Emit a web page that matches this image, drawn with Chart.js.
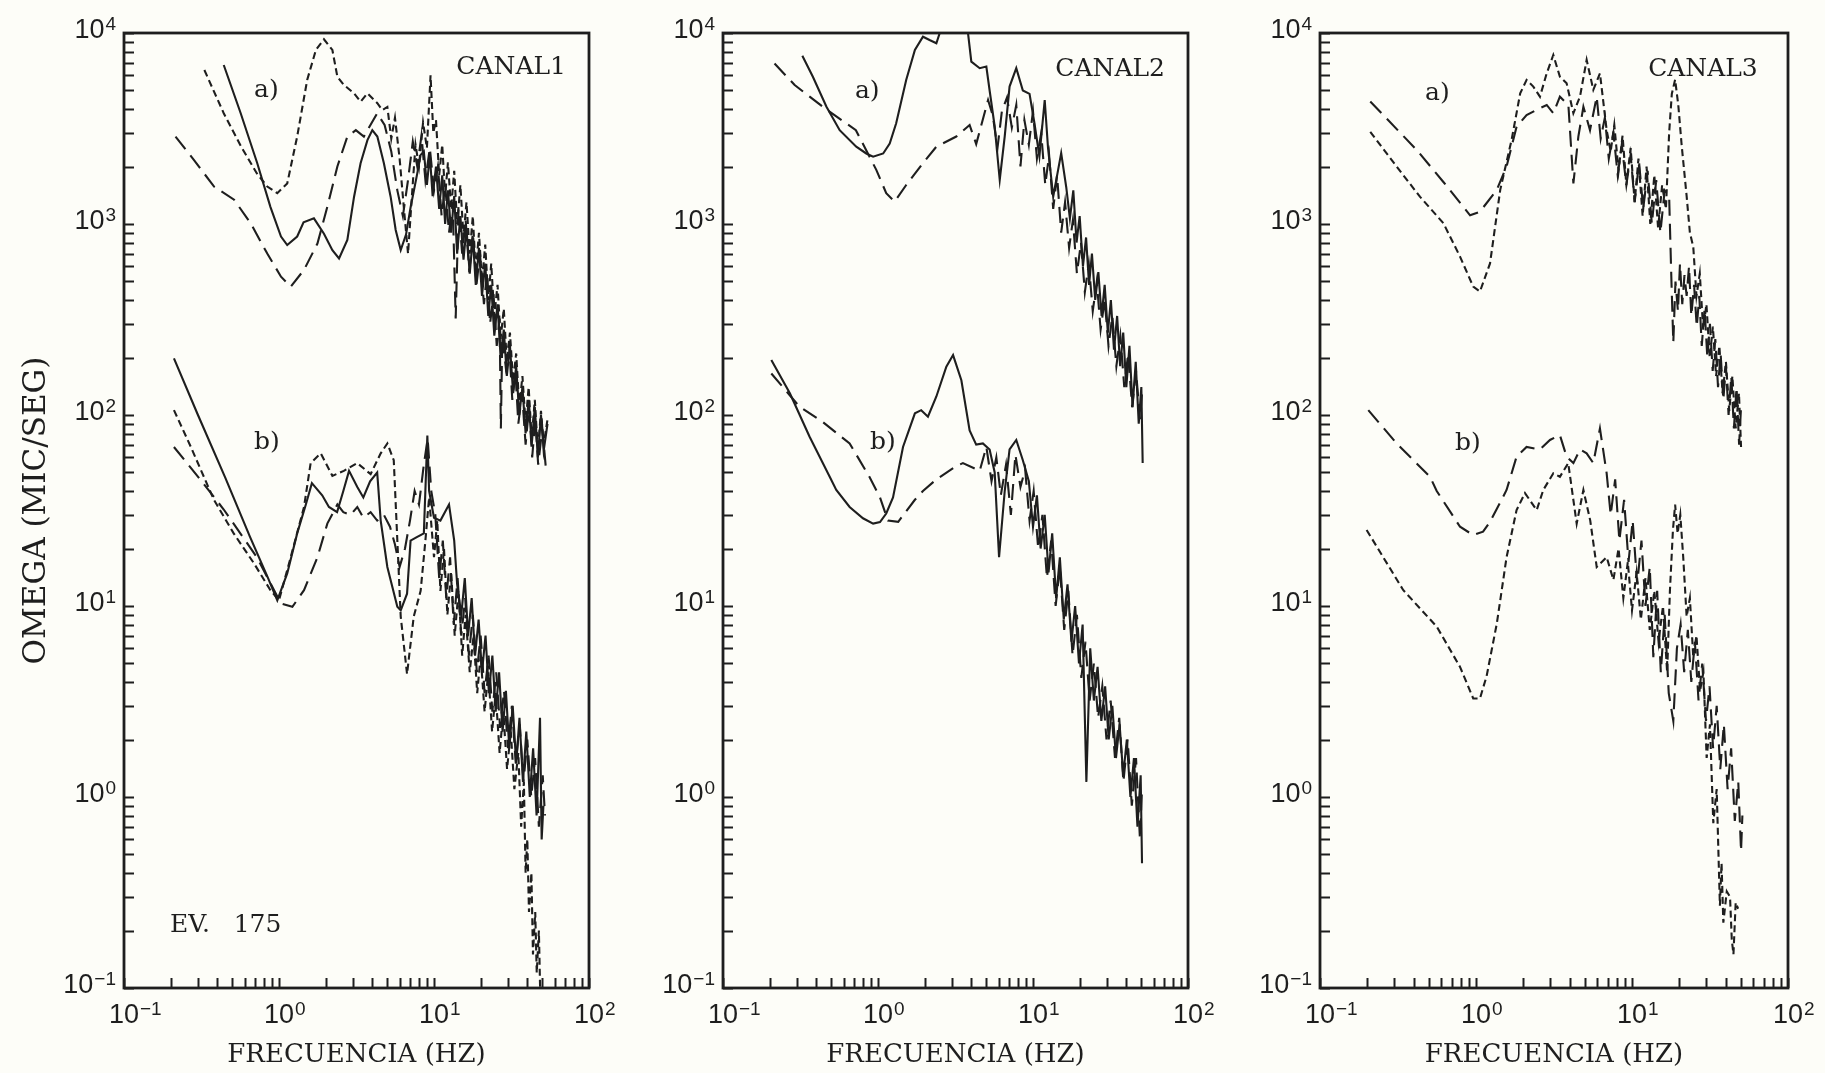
<!DOCTYPE html>
<html>
<head>
<meta charset="utf-8">
<script src="https://cdn.jsdelivr.net/npm/chart.js@4.4.1/dist/chart.umd.min.js"></script>
<style>
  html, body { margin: 0; padding: 0; background: #fdfdf8; }
  #sheet { position: relative; width: 1825px; height: 1073px; overflow: hidden; }
  #sheet canvas { position: absolute; top: 0; }
</style>
</head>
<body>
<div id="sheet">
  <canvas id="canal1" width="640" height="1073" style="left:0px"></canvas>
  <canvas id="canal2" width="610" height="1073" style="left:610px"></canvas>
  <canvas id="canal3" width="615" height="1073" style="left:1210px"></canvas>
</div>
<script>
// ---- data: [frequency Hz, omega mic/seg] ----

// CANAL1, group a)
const c1aSolid = [[0.44,6800],[0.566,3800],[0.724,2080],[0.88,1230],[1.03,860],[1.13,776],[1.31,860],[1.44,1020],[1.68,1070],[1.95,890],[2.21,730],[2.44,660],[2.76,825],[3.05,1390],[3.36,2080],[3.72,2750],[4.0,3100],[4.31,2870],[4.75,2080],[5.25,1390],[5.66,930],[6.1,730],[6.6,880],[7.06,1220],[7.8,1840],[8.2,2300],[8.6,2400],[9.0,1600],[9.4,2300],[9.8,1400],[10.3,2000],[10.8,1200],[11.3,1800],[11.8,1000],[12.3,1500],[12.9,900],[13.5,1400],[14.1,700],[14.8,1100],[15.5,650],[16.2,950],[17.0,550],[17.8,850],[18.6,480],[19.5,750],[20.4,420],[21.4,620],[22.4,330],[23.4,480],[24.5,260],[25.7,380],[26.9,200],[28.2,280],[29.5,160],[30.9,230],[32.4,130],[33.9,180],[35.5,100],[37.2,140],[39,80],[40.8,120],[42.7,70],[44.7,110],[46.8,60],[49,100],[51,65],[54,90]];
const c1aLong = [[0.215,2870],[0.283,2160],[0.381,1570],[0.513,1340],[0.656,1010],[0.84,700],[1.03,530],[1.19,470],[1.45,575],[1.77,790],[2.05,1230],[2.38,2000],[2.76,2870],[3.13,3100],[3.53,2870],[4.3,3800],[4.8,3300],[5.3,2400],[5.8,1500],[6.3,1100],[6.8,1700],[7.3,2700],[7.8,2000],[8.3,2900],[8.8,1700],[9.4,2500],[10.0,1500],[10.6,2000],[11.2,1100],[11.8,1600],[12.5,900],[13.2,1300],[13.8,320],[14.4,1200],[15.2,700],[16.0,1050],[16.9,560],[17.8,900],[18.8,480],[19.8,700],[21,380],[22,560],[23,300],[24.2,430],[25.4,230],[26.5,320],[27,85],[27.6,260],[29,180],[30.5,240],[32,120],[33.5,170],[35,90],[37,130],[39,70],[41,110],[43,60],[45,95],[47,55],[50,85],[53,50]];
const c1aShort = [[0.33,6400],[0.44,3800],[0.57,2540],[0.72,1840],[0.84,1570],[0.975,1450],[1.13,1630],[1.31,2870],[1.52,5680],[1.73,8150],[1.95,9270],[2.21,8150],[2.38,5900],[2.62,5350],[3.05,4830],[3.36,4370],[3.72,4830],[4.31,4290],[4.64,3950],[5.0,4100],[5.3,2800],[5.6,3600],[6.0,2200],[6.4,1200],[6.8,700],[7.2,1400],[7.6,2600],[8.0,2000],[8.5,3400],[9.0,2500],[9.5,6000],[9.9,3000],[10.3,3500],[10.8,1800],[11.3,2600],[11.8,1400],[12.3,2100],[12.9,1200],[13.5,1900],[14.1,1000],[14.8,1600],[15.5,850],[16.2,1300],[17.0,700],[17.8,1100],[18.6,560],[19.5,900],[20.4,500],[21.4,780],[22.4,400],[23.4,620],[24.5,330],[25.7,480],[26.9,250],[28.2,360],[29.5,190],[30.9,270],[32.4,150],[33.9,210],[35.5,110],[37.2,160],[39,90],[40.8,140],[42.7,75],[44.7,120],[46.8,65],[49,105],[51,70],[54,95]];

// CANAL1, group b)
const c1bSolid = [[0.21,198],[0.3,100],[0.45,47],[0.65,23],[0.85,14],[0.975,10.7],[1.13,14.8],[1.31,24],[1.49,34],[1.63,44],[1.9,38],[2.1,33],[2.37,31],[2.6,40],[2.83,51],[3.2,42],[3.5,37],[3.87,45],[4.3,50],[4.53,28],[5.0,16],[5.8,9.9],[6.1,9.5],[6.7,11.6],[7.06,22],[7.8,23],[8.6,24],[9.06,78],[9.3,40],[10,29],[11,28],[12.5,34],[13.5,22],[14.1,13],[15,9],[15.8,14],[16.6,7],[17.5,11],[18.4,5.5],[19.4,8.5],[20.4,4.5],[21.5,7],[22.6,3.5],[23.8,5.5],[25,2.8],[26.3,4.5],[27.7,2.2],[29.1,3.6],[30.6,1.8],[32.2,3.0],[33.9,1.5],[35.6,2.6],[37.5,1.2],[39.4,2.2],[41.5,1.0],[43.6,1.8],[45.9,0.8],[48.3,2.6],[49.5,0.6],[50.8,0.9]];
const c1bLong = [[0.21,68],[0.31,46],[0.44,32],[0.72,18],[1.03,10.3],[1.22,9.9],[1.45,12.1],[1.77,18],[2.05,27],[2.38,34],[2.6,31],[2.9,30],[3.2,33],[3.5,29],[3.9,31],[4.3,28],[4.75,30],[5.2,26],[5.6,21],[6.0,16],[6.5,20],[7.0,28],[7.5,40],[8.0,34],[8.6,55],[9.1,75],[9.6,40],[10.2,30],[10.8,14],[11.4,22],[12.0,11],[12.7,18],[13.4,8],[14.2,14],[15.0,7],[15.9,11],[16.8,5.5],[17.8,9],[18.9,4.5],[20.0,7],[21.2,3.5],[22.5,5.5],[23.8,2.8],[25.2,4.5],[26.7,2.3],[28.3,3.6],[30.0,1.8],[31.8,3],[33.7,1.5],[35.7,2.4],[37.8,1.2],[40.0,2.0],[42.4,1.0],[44.9,1.6],[47.5,0.7],[50.3,1.3],[52,0.8]];
const c1bShort = [[0.21,106],[0.27,68],[0.38,36],[0.51,24],[0.69,16.7],[0.88,12.1],[1.0,10.7],[1.19,18],[1.45,33],[1.6,56],[1.86,63],[2.21,48],[2.62,51],[3.2,56],[3.9,49],[4.53,63],[5.0,71],[5.5,58],[6.1,8.8],[6.7,4.4],[7.4,8.8],[8.2,12],[8.8,22],[9.3,37],[10,18],[10.5,28],[11,12],[11.6,20],[12.2,9],[12.9,15],[13.6,7],[14.4,12],[15.2,5.5],[16,9],[17,4.5],[18,7],[19,3.5],[20,5.5],[21.2,2.8],[22.4,4.5],[23.7,2.2],[25,3.5],[26.5,1.7],[28,2.8],[29.6,1.4],[31.3,2.2],[33,1.1],[35,1.7],[36.5,0.7],[38,1.2],[39,0.4],[40,0.6],[41,0.25],[42.5,0.4],[43.5,0.15],[45,0.25],[46,0.12],[47.5,0.2],[48.5,0.09]];

// CANAL2, group a)
const c2aSolid = [[0.325,7600],[0.38,5900],[0.465,4110],[0.566,3100],[0.724,2540],[0.84,2340],[0.93,2250],[1.08,2340],[1.19,2640],[1.31,3370],[1.52,5680],[1.73,8150],[1.95,9560],[2.15,9190],[2.38,8840],[2.62,11200],[3.4,12000],[3.81,9960],[4.0,7080],[4.53,6540],[5.0,6670],[5.25,5000],[5.66,3240],[6.1,1700],[6.57,2880],[7.06,5240],[7.8,6540],[8.6,5000],[9.5,4800],[10.2,3400],[11,2260],[11.9,4460],[12.5,2500],[13.5,1390],[15.2,2350],[16.4,1550],[17.3,1070],[18.2,1500],[19.1,800],[20,1100],[21,600],[22,850],[23,480],[24,700],[25.2,400],[26.4,560],[27.7,330],[29,480],[30.4,270],[31.8,400],[33.3,220],[34.9,330],[36.5,180],[38.2,270],[40,140],[41.9,230],[43.9,110],[46,190],[48.1,90],[50,140],[51,56]];
const c2aLong = [[0.215,6920],[0.29,5340],[0.44,4110],[0.72,3100],[0.975,1920],[1.13,1450],[1.28,1310],[1.52,1600],[1.95,2080],[2.38,2540],[3.2,2870],[3.9,3300],[4.3,2620],[5.13,4460],[5.5,3700],[5.9,2500],[6.3,3900],[6.8,4600],[7.3,3200],[7.8,4200],[8.3,2000],[8.8,3500],[9.4,2600],[10,3900],[10.6,2200],[11.3,3000],[12,1600],[12.7,2300],[13.5,1200],[14.3,1800],[15.2,900],[16.1,1300],[17.1,750],[18.1,1050],[19.2,550],[20.4,800],[21.6,440],[22.9,620],[24.3,350],[25.8,500],[27.3,280],[29,400],[30.7,230],[32.5,330],[34.5,180],[36.6,260],[38.8,140],[41.1,210],[43.6,110],[46.2,170],[49,95],[50.5,130]];

// CANAL2, group b)
const c2bSolid = [[0.205,194],[0.27,130],[0.362,77],[0.488,47.5],[0.538,40.5],[0.656,33],[0.8,28.8],[0.93,27],[1.03,27.5],[1.13,30.5],[1.25,37],[1.45,68],[1.73,102],[1.9,106],[2.1,98],[2.38,125],[2.76,179],[3.05,206],[3.45,152],[3.9,83],[4.3,70],[4.75,71],[5.25,66],[5.66,50],[6.04,18],[6.57,40],[7.06,66],[7.8,74],[8.6,58],[9.4,45],[10,26],[10.6,38],[11.2,20],[11.9,30],[12.6,15],[13.3,24],[14.1,11],[14.9,18],[15.8,8.5],[16.7,13],[17.7,6.5],[18.7,10],[19.8,5],[20.9,8],[22.1,1.2],[23.4,6],[24.7,3.2],[26.1,4.8],[27.6,2.5],[29.2,3.8],[30.8,2],[32.5,3],[34.3,1.6],[36.2,2.4],[38.2,1.3],[40.3,2.0],[42.5,1.0],[44.8,1.6],[47.2,0.7],[49.5,1.3],[50.5,0.45]];
const c2bLong = [[0.205,165],[0.31,111],[0.44,92],[0.656,71],[0.88,47.5],[1.03,37],[1.16,28],[1.35,27.6],[1.73,36],[1.95,40],[2.38,46],[3.2,54],[3.53,56],[4.53,51],[5.0,68],[5.4,45],[5.8,60],[6.2,38],[6.7,55],[7.2,30],[7.7,62],[8.3,42],[8.9,52],[9.5,28],[10.1,40],[10.8,20],[11.5,30],[12.3,14],[13.1,22],[14,10],[14.9,16],[15.9,7.5],[16.9,12],[18,5.5],[19.2,9],[20.5,4.2],[21.8,6.5],[23.2,3.2],[24.7,5],[26.3,2.6],[28,3.8],[29.8,2],[31.7,3.2],[33.8,1.6],[36,2.6],[38.3,1.2],[40.8,2.0],[43.4,0.9],[46.2,1.6],[49,0.6],[50.5,1.1]];

// CANAL3, group a)
const c3aLong = [[0.21,4380],[0.417,2440],[0.618,1660],[0.916,1110],[1.06,1160],[1.36,1510],[1.57,2000],[1.82,3230],[2.11,3720],[2.57,4040],[2.84,4200],[3.13,3800],[3.45,4640],[3.91,4200],[4.21,1630],[4.53,2870],[4.88,4110],[5.38,3100],[5.94,4640],[6.3,2800],[6.7,3600],[7.1,2200],[7.6,3000],[8.1,1800],[8.6,2600],[9.2,1600],[9.8,2300],[10.4,1300],[11.1,2100],[11.8,1200],[12.6,1900],[13.4,1000],[14.3,1700],[15.2,900],[16.2,1500],[17.3,1400],[17.9,500],[18.4,240],[19.0,500],[19.7,350],[20.3,620],[21,380],[21.7,540],[22.4,420],[23.2,600],[24,330],[25,480],[26,290],[27,420],[28,230],[29.2,360],[30.4,200],[31.6,300],[32.9,170],[34.2,250],[35.6,140],[37,210],[38.5,120],[40,180],[41.6,100],[43.3,160],[45,85],[46.8,140],[48.6,70],[50,110]];
const c3aShort = [[0.21,3040],[0.31,2000],[0.437,1390],[0.618,1010],[0.79,675],[0.96,470],[1.06,443],[1.23,622],[1.43,1510],[1.69,2750],[1.92,4830],[2.11,5680],[2.33,5240],[2.57,4640],[2.84,6150],[3.13,7670],[3.45,5900],[3.81,5450],[4.21,3800],[4.64,4640],[5.12,7230],[5.65,5040],[6.23,6150],[6.88,3100],[7.3,2400],[7.7,3300],[8.2,1900],[8.7,2900],[9.2,1600],[9.8,2500],[10.4,1300],[11,2200],[11.7,1100],[12.4,2000],[13.1,1000],[13.9,1800],[14.7,950],[15.6,1600],[16.5,1200],[17.3,3000],[18.0,4800],[18.9,5700],[19.8,4200],[20.8,2600],[22.4,1400],[23.5,900],[24.7,760],[25.9,420],[27.2,550],[28.6,280],[30,380],[31.5,200],[33,290],[34.6,160],[36.3,230],[38.1,130],[40,190],[42,105],[44,160],[46.2,85],[48.5,130],[50,68]];

// CANAL3, group b)
const c3bLong = [[0.204,106],[0.31,71],[0.507,47.5],[0.56,40],[0.79,26],[0.96,23.5],[1.11,24.5],[1.23,27.6],[1.46,36],[1.57,40.5],[1.82,60.5],[2.11,68],[2.57,66],[2.98,74],[3.45,78.5],[3.81,60.5],[4.21,56],[4.64,66],[5.12,63],[5.65,56],[6.23,85],[6.88,49.5],[7.3,30],[7.8,46],[8.3,22],[8.9,36],[9.5,17],[10.1,28],[10.8,13],[11.5,22],[12.2,10],[13,16],[13.7,5.4],[14.5,12],[15.3,4.5],[16.2,9],[17.2,3.5],[18.4,2.5],[19.4,6],[20.5,8],[21.6,4.5],[22.8,7.5],[24,4],[25.3,6.5],[26.7,3.2],[28.2,5],[29.8,2.5],[31.4,3.8],[33.1,1.8],[34.9,3],[36.8,1.4],[38.8,2.4],[41,1.1],[43.2,1.8],[45.6,0.75],[48,1.2],[50,0.52],[51,0.8]];
const c3bShort = [[0.199,25],[0.342,12.1],[0.56,7.8],[0.79,4.8],[0.96,3.28],[1.06,3.28],[1.17,4.3],[1.36,8.1],[1.57,18],[1.82,31.8],[2.06,39],[2.45,31.8],[2.7,40.5],[3.13,49.5],[3.45,47.5],[3.9,56],[4.42,27],[4.88,40.5],[5.4,28],[5.94,16],[6.88,18],[7.6,13.7],[8.2,20],[8.8,11],[9.4,17],[10,9.5],[10.7,15],[11.4,8.5],[12.2,14],[13,7.5],[13.9,12],[14.8,6.5],[15.8,10],[16.8,4.5],[17.5,12],[18.3,25],[18.9,34],[19.6,24],[20.4,30],[21.3,18],[22.4,8.8],[23.5,11],[24.7,5.4],[25.9,7],[27.3,3.6],[28.7,4.5],[30.1,1.6],[31.6,2.4],[33.2,0.73],[34.9,1.1],[36.6,0.27],[37.5,0.45],[38.5,0.22],[40.5,0.32],[42.5,0.3],[43.6,0.18],[44.7,0.15],[46.2,0.28],[47.9,0.26]];

// axis ranges and text
const freqRange = [0.1, 100];
const omegaRange = [0.1, 10000];
const xTitle = 'FRECUENCIA (HZ)';
const yTitle = 'OMEGA (MIC/SEG)';

const INK = '#1e1e1e';
const SOLID = [];
const LONG_DASH = [16, 8];
const SHORT_DASH = [7, 4];
const BASE_FONT = '27px "Liberation Sans"';
const EXP_FONT = '19px "Liberation Sans"';

function line(points, dash) {
  return {
    data: points.map(([x, y]) => ({ x, y })),
    borderColor: INK,
    borderWidth: 2.1,
    borderDash: dash,
    pointRadius: 0,
    fill: false,
    tension: 0
  };
}

// ticks at 1..9 x 10^n
function decadeTicks(scale) {
  const lo = Math.round(Math.log10(scale.min));
  const hi = Math.round(Math.log10(scale.max));
  const ticks = [];
  for (let e = lo; e < hi; e++) {
    for (let m = 1; m < 10; m++) ticks.push({ value: m * Math.pow(10, e) });
  }
  ticks.push({ value: Math.pow(10, hi) });
  scale.ticks = ticks;
}
// exponent text for a power of ten, null for the minor ticks
function exponentOf(v) {
  const e = Math.log10(v);
  if (Math.abs(e - Math.round(e)) > 1e-6) return null;
  const n = Math.round(e);
  return n < 0 ? '\u2212' + (-n) : String(n);
}

// frame, inward tick marks and 10^n labels, like the plotter drew them
const frame = {
  id: 'frame',
  afterDraw(chart) {
    const { ctx, chartArea: a, scales: { x, y } } = chart;
    ctx.save();
    ctx.strokeStyle = INK;
    ctx.fillStyle = INK;
    ctx.lineWidth = 2;
    ctx.beginPath();
    x.ticks.forEach(t => {
      const p = Math.round(x.getPixelForValue(t.value)) + 0.5;
      ctx.moveTo(p, a.bottom);
      ctx.lineTo(p, a.bottom - 10);
    });
    y.ticks.forEach(t => {
      const p = Math.round(y.getPixelForValue(t.value)) + 0.5;
      ctx.moveTo(a.left, p);
      ctx.lineTo(a.left + 10, p);
    });
    ctx.stroke();
    ctx.lineWidth = 2.8;
    ctx.strokeRect(a.left, a.top, a.right - a.left, a.bottom - a.top);

    x.ticks.forEach(t => {
      const ex = exponentOf(t.value);
      if (ex === null) return;
      const px = x.getPixelForValue(t.value);
      const cy = a.bottom + 28;
      ctx.font = BASE_FONT;
      const w = ctx.measureText('10').width;
      ctx.textAlign = 'left';
      ctx.textBaseline = 'middle';
      ctx.fillText('10', px - w / 2, cy);
      ctx.font = EXP_FONT;
      ctx.textBaseline = 'alphabetic';
      ctx.fillText(ex, px + w / 2 + 1, cy - 1);
    });
    y.ticks.forEach(t => {
      const ex = exponentOf(t.value);
      if (ex === null) return;
      const cy = y.getPixelForValue(t.value) - 2;
      const right = a.left - 8;
      ctx.font = EXP_FONT;
      const w = ctx.measureText(ex).width;
      ctx.textAlign = 'right';
      ctx.textBaseline = 'alphabetic';
      ctx.fillText(ex, right, cy - 1);
      ctx.font = BASE_FONT;
      ctx.textBaseline = 'middle';
      ctx.fillText('10', right - w - 1, cy);
    });
    ctx.restore();
  }
};

// text notes placed in data coordinates
const notes = {
  id: 'notes',
  afterDatasetsDraw(chart, args, opts) {
    const { ctx, scales: { x, y } } = chart;
    ctx.save();
    ctx.fillStyle = INK;
    ctx.font = opts.font;
    ctx.textBaseline = 'alphabetic';
    opts.items.forEach(n => {
      ctx.textAlign = n.align || 'left';
      ctx.fillText(n.text, x.getPixelForValue(n.x), y.getPixelForValue(n.y));
    });
    ctx.restore();
  }
};

function panel(id, datasets, items, axisW, padRight, showTitle) {
  return new Chart(document.getElementById(id), {
    type: 'line',
    data: { datasets },
    plugins: [frame, notes],
    options: {
      responsive: false,
      animation: false,
      devicePixelRatio: 1,
      events: [],
      layout: { padding: { top: 33, right: padRight, bottom: 0, left: 0 } },
      scales: {
        x: {
          type: 'logarithmic',
          position: 'bottom',
          min: freqRange[0],
          max: freqRange[1],
          afterBuildTicks: decadeTicks,
          afterFit: s => { s.height = 85; },
          grid: { display: false, drawTicks: false },
          border: { display: false },
          ticks: { display: false, autoSkip: false },
          title: {
            display: true, text: xTitle, color: INK,
            font: { family: 'DejaVu Serif', size: 26 },
            padding: { top: 0, bottom: 2 }
          }
        },
        y: {
          type: 'logarithmic',
          position: 'left',
          min: omegaRange[0],
          max: omegaRange[1],
          afterBuildTicks: decadeTicks,
          afterFit: s => { s.width = axisW; },
          grid: { display: false, drawTicks: false },
          border: { display: false },
          ticks: { display: false, autoSkip: false },
          title: {
            display: showTitle, text: yTitle, color: INK,
            font: { family: 'DejaVu Serif', size: 31 },
            padding: { top: 18, bottom: 0 }
          }
        }
      },
      plugins: {
        legend: { display: false },
        tooltip: { enabled: false },
        notes: { font: '25px "DejaVu Serif"', items }
      }
    }
  });
}

panel('canal1', [
  line(c1aSolid, SOLID), line(c1aLong, LONG_DASH), line(c1aShort, SHORT_DASH),
  line(c1bSolid, SOLID), line(c1bLong, LONG_DASH), line(c1bShort, SHORT_DASH)
], [
  { text: 'CANAL1', x: 71, y: 6100, align: 'right' },
  { text: 'a)', x: 0.69, y: 4630 },
  { text: 'b)', x: 0.69, y: 66 },
  { text: 'EV.   175', x: 0.198, y: 0.196 }
], 124, 51, true);

panel('canal2', [
  line(c2aSolid, SOLID), line(c2aLong, LONG_DASH),
  line(c2bSolid, SOLID), line(c2bLong, LONG_DASH)
], [
  { text: 'CANAL2', x: 71, y: 5960, align: 'right' },
  { text: 'a)', x: 0.71, y: 4570 },
  { text: 'b)', x: 0.887, y: 66 }
], 113, 32, false);

panel('canal3', [
  line(c3aLong, LONG_DASH), line(c3aShort, SHORT_DASH),
  line(c3bLong, LONG_DASH), line(c3bShort, SHORT_DASH)
], [
  { text: 'CANAL3', x: 64, y: 5960, align: 'right' },
  { text: 'a)', x: 0.471, y: 4470 },
  { text: 'b)', x: 0.733, y: 65.6 }
], 110, 37, false);
</script>
</body>
</html>
